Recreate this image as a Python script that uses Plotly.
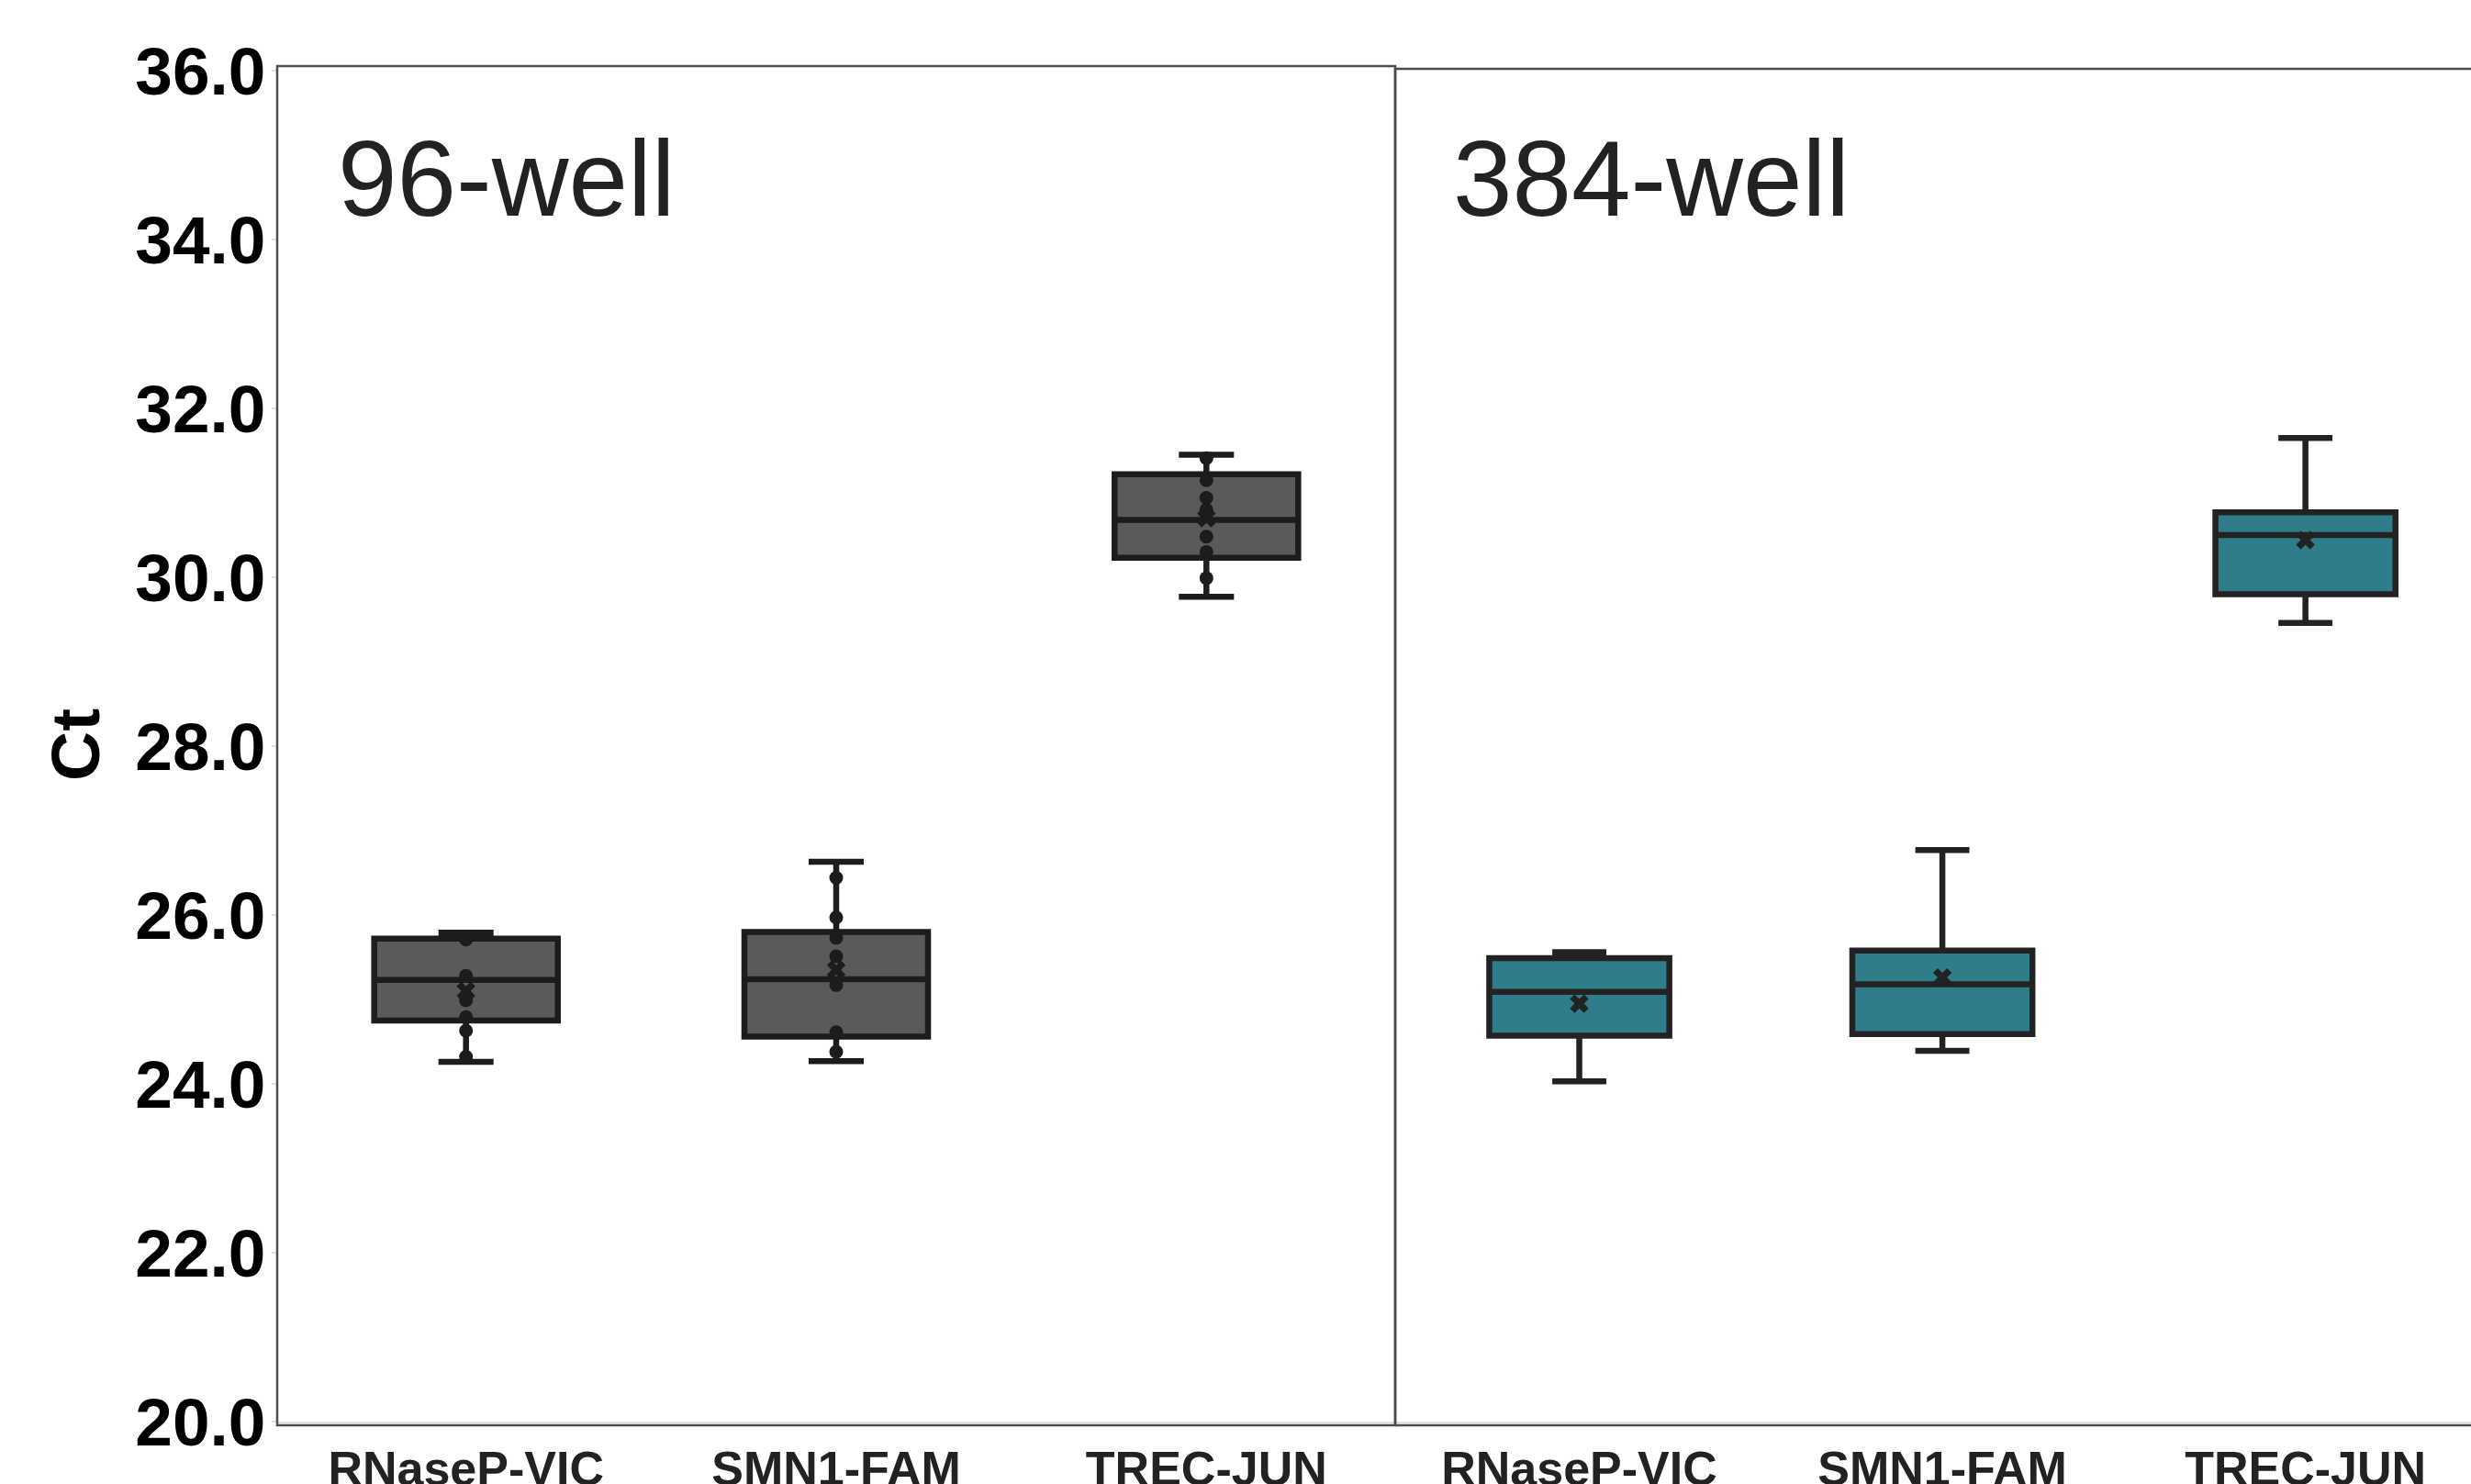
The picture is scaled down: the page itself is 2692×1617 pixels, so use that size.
import plotly.graph_objects as go

W, H = 2692, 1617

categories = ["RNaseP-VIC", "SMN1-FAM", "TREC-JUN"]
y_ticks = [20, 22, 24, 26, 28, 30, 32, 34, 36]

# 96-well plate: box summary (Ct)
w96_q1 = [24.75, 24.56, 30.23]
w96_median = [25.23, 25.24, 30.68]
w96_q3 = [25.72, 25.80, 31.22]
w96_lowerfence = [24.26, 24.27, 29.77]
w96_upperfence = [25.79, 26.63, 31.45]
w96_mean = [25.10, 25.35, 30.70]

# 96-well plate: individual replicate Ct values
w96_rnasep_points = [25.71, 25.28, 24.99, 24.79, 24.63, 24.32]
w96_smn1_points = [26.44, 25.97, 25.73, 25.51, 25.17, 24.61, 24.38]
w96_trec_points = [31.41, 31.15, 30.94, 30.80, 30.48, 30.30, 29.99]

# 384-well plate: box summary (Ct)
w384_q1 = [24.57, 24.59, 29.80]
w384_median = [25.09, 25.18, 30.50]
w384_q3 = [25.49, 25.58, 30.77]
w384_lowerfence = [24.03, 24.39, 29.46]
w384_upperfence = [25.56, 26.77, 31.65]
w384_mean = [24.95, 25.26, 30.44]

panel_titles = ["96-well", "384-well"]

GRAY_FILL = "#5a5a5a"
TEAL_FILL = "#2f7d8a"
EDGE = "#1c1c1c"
FRAME = "#4d4d4d"
FONT = "Liberation Sans"


def px_x(p):
    return p / W


def px_y(p):
    return 1 - p / H


fig = go.Figure()

for i, cat in enumerate(categories):
    fig.add_trace(go.Box(
        x=[cat], q1=[w96_q1[i]], median=[w96_median[i]], q3=[w96_q3[i]],
        lowerfence=[w96_lowerfence[i]], upperfence=[w96_upperfence[i]],
        width=0.496, whiskerwidth=0.3, fillcolor=GRAY_FILL,
        line=dict(color=EDGE, width=6.5), boxpoints=False,
        xaxis="x", yaxis="y", showlegend=False, hoverinfo="skip"))
    fig.add_trace(go.Box(
        x=[cat], q1=[w384_q1[i]], median=[w384_median[i]], q3=[w384_q3[i]],
        lowerfence=[w384_lowerfence[i]], upperfence=[w384_upperfence[i]],
        width=0.496, whiskerwidth=0.3, fillcolor=TEAL_FILL,
        line=dict(color="#222222", width=6.5), boxpoints=False,
        xaxis="x2", yaxis="y2", showlegend=False, hoverinfo="skip"))

pts_x, pts_y = [], []
for cat, vals in zip(categories, [w96_rnasep_points, w96_smn1_points, w96_trec_points]):
    pts_x += [cat] * len(vals)
    pts_y += vals
fig.add_trace(go.Scatter(x=pts_x, y=pts_y, mode="markers",
                         marker=dict(size=15, color=EDGE),
                         xaxis="x", yaxis="y", showlegend=False))

fig.add_trace(go.Scatter(x=categories, y=w96_mean, mode="markers",
                         marker=dict(symbol="x", size=18, color=EDGE, line=dict(width=0)),
                         xaxis="x", yaxis="y", showlegend=False))
fig.add_trace(go.Scatter(x=categories, y=w384_mean, mode="markers",
                         marker=dict(symbol="x", size=18, color="#222222", line=dict(width=0)),
                         xaxis="x2", yaxis="y2", showlegend=False))

ydom = [px_y(1549), px_y(72)]
yrange = [20, 36.054]
xtickfont = dict(family=FONT, size=52, color="#222222", weight="bold")

fig.update_layout(
    width=W, height=H,
    margin=dict(l=0, r=0, t=0, b=0, pad=0, autoexpand=False),
    paper_bgcolor="white", plot_bgcolor="white",
    xaxis=dict(domain=[px_x(302), px_x(1520)], type="category",
               categoryorder="array", categoryarray=categories,
               range=[-0.51, 2.51], showgrid=False, zeroline=False,
               showline=True, linecolor="#e3e3e3", linewidth=2,
               ticks="", tickfont=xtickfont, ticklabelstandoff=5,
               automargin=False, anchor="y"),
    xaxis2=dict(domain=[px_x(1520), 1], type="category",
                categoryorder="array", categoryarray=categories,
                range=[-0.507, 2.456], showgrid=False, zeroline=False,
                showline=True, linecolor="#e3e3e3", linewidth=2,
                ticks="", tickfont=xtickfont, ticklabelstandoff=5,
                automargin=False, anchor="y2"),
    yaxis=dict(domain=ydom, range=yrange, tickvals=y_ticks, tickformat=".1f",
               showgrid=False, zeroline=False, showline=False,
               ticks="outside", ticklen=5, tickwidth=2, tickcolor="#e0e0e0",
               ticklabelstandoff=-8,
               tickfont=dict(family=FONT, size=73, color="black", weight="bold"),
               automargin=False, anchor="x"),
    yaxis2=dict(domain=ydom, range=yrange, showticklabels=False,
                showgrid=False, zeroline=False, showline=False, ticks="",
                automargin=False, anchor="x2"),
)

frame = dict(color=FRAME, width=2.5)
shapes = [
    dict(type="rect", xref="paper", yref="paper",
         x0=px_x(302), x1=px_x(1520), y0=px_y(1553), y1=px_y(72), line=frame),
    dict(type="line", xref="paper", yref="paper",
         x0=px_x(1520), x1=1, y0=px_y(75), y1=px_y(75), line=frame),
    dict(type="line", xref="paper", yref="paper",
         x0=px_x(1520), x1=1, y0=px_y(1553), y1=px_y(1553), line=frame),
    dict(type="line", xref="paper", yref="paper",
         x0=px_x(1520), x1=px_x(1520), y0=px_y(1553), y1=px_y(75), line=frame),
]
fig.update_layout(shapes=shapes)

fig.add_annotation(text=panel_titles[0], xref="paper", yref="paper",
                   x=px_x(366), y=px_y(195), xanchor="left", yanchor="middle",
                   showarrow=False, font=dict(family=FONT, size=116, color="#222222"))
fig.add_annotation(text=panel_titles[1], xref="paper", yref="paper",
                   x=px_x(1581), y=px_y(195), xanchor="left", yanchor="middle",
                   showarrow=False, font=dict(family=FONT, size=116, color="#222222"))
fig.add_annotation(text="Ct", xref="paper", yref="paper", textangle=-90,
                   x=px_x(82), y=px_y(812), xanchor="center", yanchor="middle",
                   showarrow=False,
                   font=dict(family=FONT, size=75, color="black", weight="bold"))

fig.write_html("out.html")
